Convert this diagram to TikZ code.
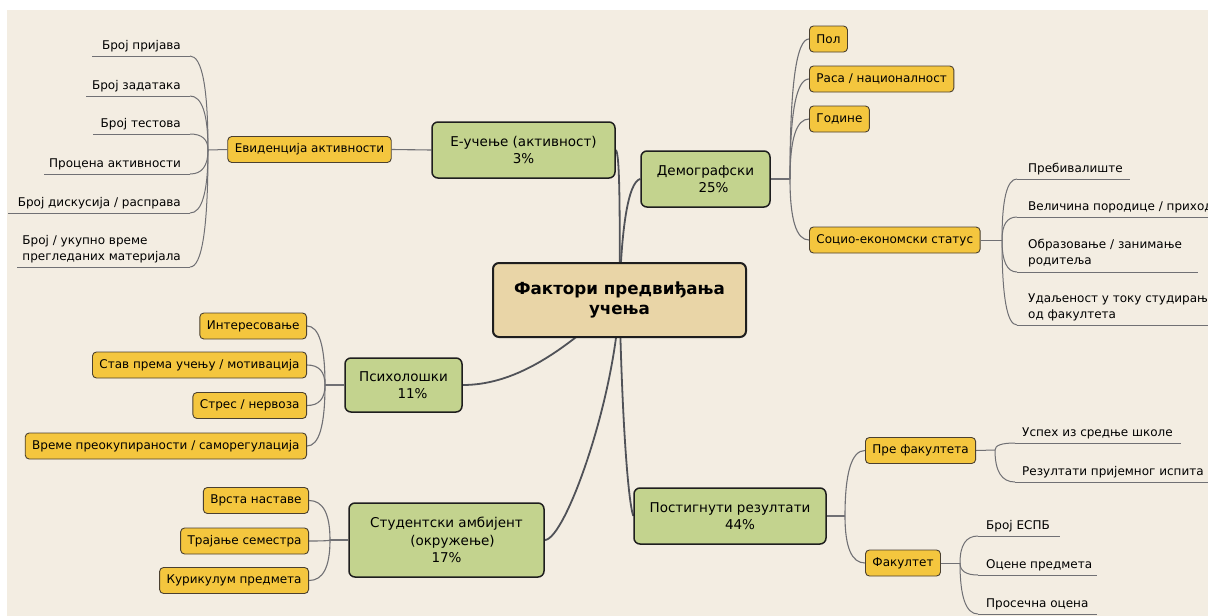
\documentclass[tikz,border=0pt]{standalone}
\usepackage{fontspec}
\setmainfont{DejaVu Sans}
\usetikzlibrary{backgrounds,calc}

\definecolor{paper}{HTML}{F3EDE2}
\definecolor{rootfill}{HTML}{E9D5A7}
\definecolor{mainfill}{HTML}{C3D38E}
\definecolor{subfill}{HTML}{F4C63E}
\definecolor{edgedark}{HTML}{1E1E1E}
\definecolor{subedge}{HTML}{4A4030}
\definecolor{wiredark}{HTML}{505258}
\definecolor{wirethin}{HTML}{707074}

% quadratic bend from a junction #1 to a target #2 (horizontal at the target)
\newcommand{\bendwire}[3]{%
  \draw[#1] (#2) .. controls ($(#2)!0.667!(#2 |- #3)$) and ($(#3)!0.667!(#2 |- #3)$) .. (#3)}

\begin{document}
\begin{tikzpicture}[x=1pt,y=-1pt,
  root/.style={draw=edgedark, line width=2pt, fill=rootfill, rounded corners=6pt,
    minimum width=253pt, minimum height=74pt, align=center, inner sep=0pt,
    font=\fontsize{16.7}{20}\selectfont\bfseries},
  topic/.style={draw=edgedark, line width=1.5pt, fill=mainfill, rounded corners=6pt,
    align=center, inner sep=0pt, font=\fontsize{13.5}{17.5}\selectfont},
  sub/.style={draw=subedge, line width=0.9pt, fill=subfill, rounded corners=4pt,
    minimum height=26pt, inner xsep=7pt, inner ysep=0pt,
    font=\fontsize{12}{16}\selectfont},
  leaf/.style={inner sep=0pt, align=left, font=\fontsize{12}{16}\selectfont},
  mainwire/.style={draw=wiredark, line width=1.8pt},
  subwire/.style={draw=wirethin, line width=1.1pt},
  twig/.style={draw=wirethin, line width=1pt},
]
\useasboundingbox (0,0) rectangle (1208,616);

% central topic and main branches
\node[root] (root) at (619.5,300) {Фактори предвиђања\\учења};
\node[topic, minimum width=183pt, minimum height=56pt] (elearn) at (523.5,150)
  {Е-учење (активност)\\3\%};
\node[topic, minimum width=129pt, minimum height=56pt] (demo) at (705.5,179)
  {Демографски\\\hspace*{16pt}25\%};
\node[topic, minimum width=117pt, minimum height=54pt] (psych) at (403.5,385)
  {Психолошки\\\hspace*{18pt}11\%};
\node[topic, minimum width=195pt, minimum height=74pt] (env) at (446.5,540)
  {Студентски амбијент\\\hspace*{12pt}(окружење)\\17\%};
\node[topic, minimum width=192pt, minimum height=56pt] (results) at (730,516)
  {Постигнути резултати\\\hspace*{20pt}44\%};

% second level
\node[sub] (activity) at (309.5,149.5) {Евиденција активности};

\node[sub, anchor=west] (gender) at (809,39) {Пол};
\node[sub, anchor=west] (race) at (809,79) {Раса / националност};
\node[sub, anchor=west] (age) at (809,119) {Године};
\node[sub, anchor=west] (ses) at (809,240) {Социо-економски статус};

\node[sub, anchor=east] (interest) at (307,326) {Интересовање};
\node[sub, anchor=east] (attitude) at (307,365) {Став према учењу / мотивација};
\node[sub, anchor=east] (stress) at (307,405.5) {Стрес / нервоза};
\node[sub, anchor=east] (selfreg) at (307,446) {Време преокупираности / саморегулација};

\node[sub, anchor=east] (teaching) at (309,500.5) {Врста наставе};
\node[sub, anchor=east] (semester) at (309,541) {Трајање семестра};
\node[sub, anchor=east] (curriculum) at (309,580.5) {Курикулум предмета};

\node[sub, anchor=west] (before) at (865,450.5) {Пре факултета};
\node[sub, anchor=west] (faculty) at (865,563) {Факултет};

% leaves (multi-line texts are anchored at their last baseline)
\node[leaf, anchor=base east] (logins) at (181,49) {Број пријава};
\node[leaf, anchor=base east] (tasks) at (181,89) {Број задатака};
\node[leaf, anchor=base east] (tests) at (181,127) {Број тестова};
\node[leaf, anchor=base east] (rating) at (181,167) {Процена активности};
\node[leaf, anchor=base east] (forums) at (181,206) {Број дискусија / расправа};
\node[leaf, anchor=base east] (materials) at (181,260)
  {Број / укупно време\\прегледаних материјала};

\node[leaf, anchor=base west] (residence) at (1028,172) {Пребивалиште};
\node[leaf, anchor=base west] (family) at (1028,210) {Величина породице / приход};
\node[leaf, anchor=base west] (parents) at (1028,264)
  {Образовање / занимање\\родитеља};
\node[leaf, anchor=base west] (distance) at (1028,318)
  {Удаљеност у току студирања\\од факултета};

\node[leaf, anchor=base west] (school) at (1022,436) {Успех из средње школе};
\node[leaf, anchor=base west] (exam) at (1022,475) {Резултати пријемног испита};
\node[leaf, anchor=base west] (ects) at (986,529) {Број ЕСПБ};
\node[leaf, anchor=base west] (grades) at (986,568) {Оцене предмета};
\node[leaf, anchor=base west] (gpa) at (986,607) {Просечна оцена};

% junctions of the wire bundles
\coordinate (jAct) at (208,150);
\coordinate (jDemo) at (790,179);
\coordinate (jSes) at (1002,240);
\coordinate (jPsy) at (325,385);
\coordinate (jEnv) at (330,540);
\coordinate (jRes) at (845,516);
\coordinate (jBef) at (995,450);
\coordinate (jFac) at (960,563);

% inner ends of the leaf underlines
\foreach \k/\x/\y in {a/190/56, b/190/96, c/190/134, d/190/174, e/190/213, f/190/267,
                      g/1017/179, h/1017/217, i/1017/272, j/1017/325,
                      k/1015/443, l/1015/482,
                      m/978/536, n/978/575, o/978/614}
  \coordinate (u\k) at (\x,\y);

\begin{scope}[on background layer]
  % page and canvas
  \fill[white] (0,0) rectangle (1208,616);
  \fill[paper] (7,10) rectangle (1208,616);

  % main branches from the central topic
  \draw[mainwire] (root.center) .. controls (620,220) and (620,152) .. (elearn.east);
  \draw[mainwire] (root.center) .. controls (621,230) and (628,182) .. (demo.west);
  \draw[mainwire] (root.center) .. controls (570,345) and (520,385) .. (psych.east);
  \draw[mainwire] (root.center) .. controls (615,400) and (565,540) .. (env.east);
  \draw[mainwire] (root.center) .. controls (622,420) and (628,500) .. (results.west);

  % second level wires
  \draw[subwire] (elearn.west) -- (activity.east);
  \draw[subwire] (demo.east) -- (jDemo);
  \foreach \n in {gender,race,age,ses}
    {\bendwire{subwire}{jDemo}{\n.west};}
  \draw[subwire] (psych.west) -- (jPsy);
  \foreach \n in {interest,attitude,stress,selfreg}
    {\bendwire{subwire}{jPsy}{\n.east};}
  \draw[subwire] (env.west) -- (jEnv);
  \foreach \n in {teaching,semester,curriculum}
    {\bendwire{subwire}{jEnv}{\n.east};}
  \draw[subwire] (results.east) -- (jRes);
  \foreach \n in {before,faculty}
    {\bendwire{subwire}{jRes}{\n.west};}

  % leaf wires ending in underlines
  \draw[twig] (activity.west) -- (jAct);
  \foreach \k in {a,b,c,d,e,f} {\bendwire{twig}{jAct}{u\k};}
  \draw[twig] (ses.east) -- (jSes);
  \foreach \k in {g,h,i,j} {\bendwire{twig}{jSes}{u\k};}
  \draw[twig] (before.east) -- (jBef);
  \foreach \k in {k,l} {\bendwire{twig}{jBef}{u\k};}
  \draw[twig] (faculty.east) -- (jFac);
  \foreach \k in {m,n,o} {\bendwire{twig}{jFac}{u\k};}

  % underlines
  \foreach \k/\x in {a/92, b/86, c/93, d/44, e/8, f/17,
                     g/1130, h/1212, i/1198, j/1212,
                     k/1181, l/1212, m/1060, n/1097, o/1097}
    \draw[twig] (u\k) -- (u\k -| \x,0);
\end{scope}
\end{tikzpicture}
\end{document}
